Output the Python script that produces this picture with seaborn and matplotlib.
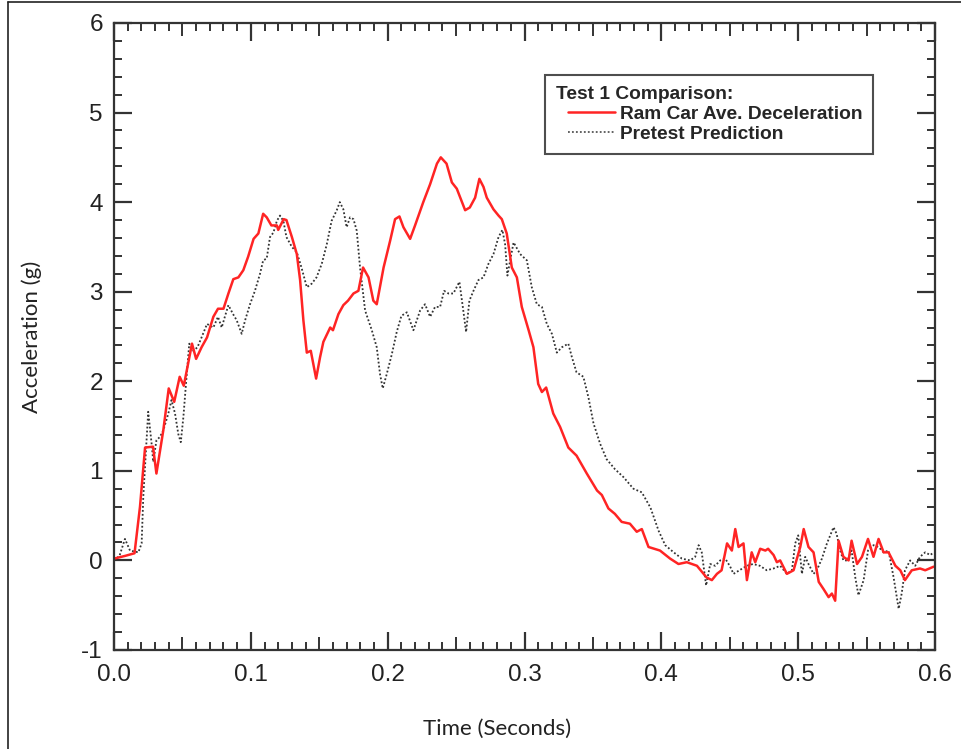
import matplotlib
matplotlib.use("Agg")
import matplotlib.pyplot as plt
from matplotlib.lines import Line2D
from matplotlib.legend_handler import HandlerLine2D
from matplotlib.ticker import MultipleLocator
import seaborn as sns
import pandas as pd

# ---------------- data ----------------
red_t = [0.0, 0.008, 0.015, 0.019, 0.0227, 0.0285, 0.031, 0.036, 0.040, 0.044, 0.048, 0.051, 0.057, 0.060,
         0.064, 0.068, 0.0726, 0.076, 0.080, 0.0836, 0.0872, 0.0909, 0.0945, 0.098, 0.102, 0.1055, 0.109,
         0.1116, 0.115, 0.119, 0.120, 0.124, 0.126, 0.130, 0.1336, 0.136, 0.1384, 0.1409, 0.1438, 0.1477,
         0.1506, 0.153, 0.158, 0.160, 0.164, 0.1676, 0.171, 0.175, 0.1786, 0.182, 0.186, 0.1895, 0.192,
         0.197, 0.2018, 0.2054, 0.2086, 0.2115, 0.2164, 0.22, 0.226, 0.231, 0.236, 0.2388, 0.243, 0.2469,
         0.2505, 0.2566, 0.260, 0.2639, 0.267, 0.270, 0.2724, 0.2773, 0.281, 0.2834, 0.287, 0.2907, 0.2944,
         0.298, 0.303, 0.3065, 0.310, 0.3127, 0.3158, 0.321, 0.326, 0.332, 0.338, 0.3455, 0.353, 0.3565,
         0.3613, 0.366, 0.371, 0.377, 0.382, 0.3857, 0.3906, 0.399, 0.4064, 0.4125, 0.4186, 0.426, 0.433,
         0.4369, 0.4406, 0.444, 0.448, 0.4515, 0.454, 0.4564, 0.46, 0.4625, 0.466, 0.4686, 0.4722, 0.476,
         0.478, 0.482, 0.4844, 0.4868, 0.4917, 0.4966, 0.5015, 0.504, 0.5075, 0.5112, 0.515, 0.5185, 0.5222,
         0.5246, 0.527, 0.5295, 0.533, 0.5368, 0.539, 0.543, 0.5466, 0.551, 0.555, 0.5587, 0.5624, 0.566,
         0.571, 0.5746, 0.578, 0.583, 0.589, 0.5928, 0.599]
red_g = [0.02, 0.05, 0.08, 0.6, 1.26, 1.27, 0.97, 1.45, 1.92, 1.77, 2.05, 1.95, 2.42, 2.25,
         2.38, 2.49, 2.72, 2.81, 2.81, 2.98, 3.14, 3.16, 3.24, 3.39, 3.59, 3.65, 3.87,
         3.83, 3.74, 3.74, 3.69, 3.81, 3.80, 3.61, 3.42, 3.13, 2.68, 2.32, 2.34, 2.03,
         2.27, 2.44, 2.60, 2.57, 2.75, 2.85, 2.90, 2.98, 3.01, 3.27, 3.16, 2.90, 2.86,
         3.27, 3.57, 3.81, 3.84, 3.72, 3.59, 3.74, 4.0, 4.20, 4.43, 4.50, 4.43, 4.22,
         4.15, 3.91, 3.94, 4.05, 4.26, 4.17, 4.05, 3.92, 3.85, 3.81, 3.65, 3.27, 3.16,
         2.83, 2.57, 2.38, 1.97, 1.88, 1.93, 1.64, 1.49, 1.26, 1.17, 0.97, 0.78, 0.73,
         0.58, 0.52, 0.43, 0.41, 0.32, 0.35, 0.15, 0.11, 0.02, -0.04, -0.02, -0.06, -0.19,
         -0.22, -0.15, -0.11, 0.19, 0.11, 0.35, 0.15, 0.19, -0.22, 0.09, -0.02, 0.13, 0.11,
         0.13, 0.06, -0.02, 0.0, -0.15, -0.11, 0.15, 0.35, 0.15, 0.09, -0.24, -0.32, -0.41,
         -0.37, -0.45, 0.22, 0.04, 0.0, 0.22, -0.04, 0.04, 0.24, 0.04, 0.24, 0.09, 0.09,
         -0.06, -0.11, -0.22, -0.11, -0.09, -0.11, -0.07]

pre_t = [0.0, 0.004, 0.008, 0.0117, 0.0178, 0.0202, 0.0214, 0.025, 0.0275, 0.0287, 0.031, 0.0336, 0.036,
         0.0397, 0.042, 0.0446, 0.047, 0.0488, 0.0507, 0.0526, 0.055, 0.058, 0.061, 0.064, 0.068, 0.0726,
         0.076, 0.0787, 0.081, 0.0836, 0.087, 0.0897, 0.0933, 0.0958, 0.0994, 0.103, 0.1067, 0.109, 0.1116,
         0.114, 0.1165, 0.119, 0.1213, 0.1238, 0.126, 0.13, 0.1336, 0.137, 0.1409, 0.1445, 0.148, 0.1518,
         0.1555, 0.159, 0.1628, 0.165, 0.1676, 0.170, 0.1725, 0.175, 0.1774, 0.1798, 0.1835, 0.1884, 0.192,
         0.1944, 0.1964, 0.1993, 0.203, 0.2066, 0.21, 0.214, 0.2188, 0.2237, 0.2273, 0.231, 0.2346, 0.2383,
         0.2412, 0.2444, 0.248, 0.2524, 0.2549, 0.2573, 0.2597, 0.2627, 0.2663, 0.27, 0.2736, 0.2773, 0.281,
         0.2838, 0.2858, 0.2875, 0.2895, 0.292, 0.2968, 0.3017, 0.3053, 0.309, 0.3127, 0.3163, 0.32, 0.3236,
         0.3273, 0.332, 0.3346, 0.338, 0.343, 0.3467, 0.3504, 0.3553, 0.36, 0.366, 0.3723, 0.3796, 0.3857,
         0.392, 0.398, 0.4028, 0.409, 0.415, 0.421, 0.4247, 0.4272, 0.4295, 0.4327, 0.4357, 0.4393, 0.443,
         0.4467, 0.4503, 0.4527, 0.4625, 0.467, 0.472, 0.477, 0.482, 0.4868, 0.4917, 0.4954, 0.4978, 0.5,
         0.5027, 0.5051, 0.5075, 0.5112, 0.5136, 0.5173, 0.521, 0.5258, 0.528, 0.5307, 0.533, 0.536, 0.539,
         0.5417, 0.544, 0.5478, 0.551, 0.555, 0.5587, 0.5624, 0.566, 0.5697, 0.572, 0.5734, 0.5756, 0.578,
         0.5818, 0.5855, 0.589, 0.5928, 0.5965, 0.599]
pre_g = [0.0, 0.05, 0.24, 0.11, 0.09, 0.19, 0.71, 1.66, 1.30, 1.10, 1.34, 1.38, 1.45,
         1.64, 1.79, 1.64, 1.41, 1.32, 1.60, 1.97, 2.42, 2.34, 2.38, 2.49, 2.64, 2.60,
         2.72, 2.60, 2.72, 2.85, 2.75, 2.68, 2.53, 2.68, 2.86, 3.01, 3.20, 3.35, 3.37,
         3.61, 3.66, 3.79, 3.85, 3.79, 3.61, 3.50, 3.44, 3.27, 3.05, 3.09, 3.16, 3.31,
         3.53, 3.79, 3.91, 4.0, 3.92, 3.72, 3.83, 3.81, 3.68, 3.27, 2.79, 2.57, 2.38,
         2.08, 1.92, 2.08, 2.30, 2.55, 2.73, 2.77, 2.57, 2.79, 2.86, 2.72, 2.83, 2.83,
         3.01, 2.98, 2.98, 3.11, 2.83, 2.55, 2.90, 3.01, 3.13, 3.16, 3.31, 3.42, 3.61,
         3.69, 3.53, 3.18, 3.35, 3.55, 3.42, 3.35, 3.05, 2.86, 2.83, 2.64, 2.53, 2.32,
         2.38, 2.42, 2.27, 2.10, 2.05, 1.82, 1.53, 1.30, 1.13, 1.02, 0.93, 0.80, 0.76,
         0.59, 0.33, 0.17, 0.09, 0.02, 0.0, 0.04, 0.17, 0.09, -0.28, -0.04, -0.06, 0.0,
         0.02, -0.07, -0.15, -0.06, -0.04, -0.06, -0.11, -0.09, -0.06, -0.15, -0.11, 0.19, 0.28,
         -0.15, 0.04, -0.04, -0.15, -0.11, 0.02, 0.19, 0.37, 0.30, 0.11, 0.0, 0.0, 0.11,
         -0.19, -0.39, -0.22, 0.11, 0.17, 0.15, 0.09, 0.11, -0.19, -0.41, -0.54, -0.37, -0.11,
         0.0, -0.06, 0.04, 0.09, 0.06, 0.09]

x_ticks = [0.0, 0.1, 0.2, 0.3, 0.4, 0.5, 0.6]
x_tick_labels = ["0.0", "0.1", "0.2", "0.3", "0.4", "0.5", "0.6"]
y_ticks = [-1, 0, 1, 2, 3, 4, 5, 6]
series_names = ["Ram Car Ave. Deceleration", "Pretest Prediction"]
legend_title = "Test 1 Comparison:"

# ---------------- style ----------------
sns.set_theme(style="white")
plt.rcParams["font.family"] = ["Liberation Sans", "DejaVu Sans"]
plt.rcParams["axes.unicode_minus"] = False

RED = "#ff2424"
DOT = (0, (1, 1.2))
AX_C = "#333333"

fig = plt.figure(figsize=(9.62, 7.49), dpi=100)
ax = fig.add_axes([0.1185, 0.1322, 0.8535, 0.8371])

df_red = pd.DataFrame({"t": red_t, "g": red_g})
df_pre = pd.DataFrame({"t": pre_t, "g": pre_g})
sns.lineplot(data=df_pre, x="t", y="g", ax=ax, color="#333333", linestyle=DOT,
             linewidth=1.3, sort=False, estimator=None)
sns.lineplot(data=df_red, x="t", y="g", ax=ax, color=RED, linewidth=1.8,
             sort=False, estimator=None)

ax.set_xlim(0, 0.6)
ax.set_ylim(-1, 6)
ax.set_xticks(x_ticks)
ax.set_xticklabels(x_tick_labels)
ax.set_yticks(y_ticks)
ax.xaxis.set_minor_locator(MultipleLocator(0.01))
ax.yaxis.set_minor_locator(MultipleLocator(0.2))
ax.tick_params(which="both", bottom=True, top=True, left=True, right=True, direction="in")
ax.tick_params(which="major", length=13, width=1.6, color=AX_C,
               labelsize=17.5, labelcolor="#222222")
ax.tick_params(which="minor", length=6, width=1.4, color=AX_C)
ax.tick_params(axis="x", which="major", pad=10)
ax.tick_params(axis="y", which="major", pad=8)

for s in ax.spines.values():
    s.set_visible(True)
    s.set_linewidth(1.6)
    s.set_color(AX_C)

ax.set_xlabel("Time (Seconds)", fontsize=16, family=["Lato", "DejaVu Sans"], color="#222222")
ax.xaxis.set_label_coords(0.466, -0.110)
ax.set_ylabel("Acceleration (g)", fontsize=16, family=["Lato", "DejaVu Sans"], labelpad=28,
              color="#222222")

handles = [Line2D([], [], color=RED, linewidth=1.8),
           Line2D([], [], color="#555555", linestyle=DOT, linewidth=1.3)]
leg = ax.legend(handles, series_names, title=legend_title, loc="upper left",
                bbox_to_anchor=(0.525, 0.917), frameon=True, fancybox=False,
                prop={"weight": "bold", "size": 13.8},
                title_fontproperties={"weight": "bold", "size": 13.8},
                alignment="left", handlelength=3.1, handletextpad=0.25, borderpad=0.55,
                labelspacing=0.15, borderaxespad=0,
                handler_map={Line2D: HandlerLine2D(xpad=0.65)})
leg.get_frame().set_edgecolor("#222222")
leg.get_frame().set_linewidth(1.5)

# medium-length ticks at every 0.05 s
fig.canvas.draw()
for tick, loc in zip(ax.xaxis.get_minor_ticks(), ax.xaxis.get_minorticklocs()):
    if abs(loc * 20 - round(loc * 20)) < 1e-6:
        tick.tick1line.set_markersize(9.5)
        tick.tick2line.set_markersize(9.5)

# figure frame (left and top)
fig.add_artist(Line2D([0.0085, 0.0085], [0, 0.997], transform=fig.transFigure, color="#222222", lw=1.2))
fig.add_artist(Line2D([0.0085, 1.0], [0.997, 0.997], transform=fig.transFigure, color="#222222", lw=1.2))

fig.savefig("out.png", dpi=100)
